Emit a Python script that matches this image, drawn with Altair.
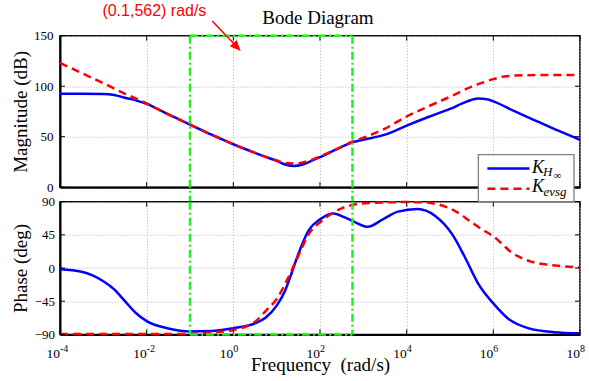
import altair as alt
import pandas as pd

# ---------------- data ----------------
freq_mag_h = [1e-4, 3.16e-4, 1e-3, 1.78e-3, 3.16e-3, 5.62e-3, 1e-2, 3.16e-2, 0.1, 0.316,
              1.0, 3.16, 5.62, 10.0, 15.8, 25.1, 39.8, 63.1, 100.0, 316.0, 562.0, 1000.0,
              3160.0, 1e4, 3.16e4, 1e5, 2.51e5, 4.47e5, 7.08e5, 1e6, 3.16e6, 1e7, 3.16e7, 1e8]
mag_h = [92.5, 92.5, 92.3, 91.3, 88.5, 86, 82.5, 72, 62, 52,
         42.5, 34, 30, 26, 22.5, 21, 22.5, 26, 29.7, 40, 44.5, 47,
         52, 61, 69.5, 77.5, 85, 87.8, 87, 85, 75, 65.5, 56, 47]

freq_mag_e = [1e-4, 3.16e-4, 1e-3, 3.16e-3, 1e-2, 3.16e-2, 0.1, 0.316, 1.0, 3.16, 5.62,
              10.0, 15.8, 25.1, 39.8, 63.1, 100.0, 316.0, 562.0, 1000.0, 3160.0, 1e4,
              3.16e4, 1e5, 3.16e5, 5.62e5, 1e6, 1.78e6, 3.16e6, 1e7, 1e8]
mag_e = [123, 113, 103, 92.5, 83, 72, 62, 52, 42.5, 34, 30,
         26.5, 24, 23.5, 24.5, 27, 30.5, 40, 45, 49, 58, 70,
         80, 89.5, 99.5, 103.5, 107, 109.5, 110.5, 111, 111]

freq_ph_h = [1e-4, 3.16e-4, 5.62e-4, 1e-3, 1.78e-3, 3.16e-3, 5.62e-3, 1e-2, 3.16e-2, 0.1,
             0.316, 1.0, 3.16, 5.62, 10.0, 15.8, 22.4, 31.6, 56.2, 100.0, 200.0, 398.0,
             708.0, 1259.0, 2818.0, 6310.0, 1.78e4, 4.47e4, 1.12e5, 2.24e5, 4.47e5, 1e6,
             2.24e6, 6.31e6, 2.51e7, 1e8]
ph_h = [-1.5, -5, -10, -18, -29, -45, -61, -72, -82, -86,
        -85.5, -81.5, -75, -67, -51, -30, -6, 19, 52, 66, 74, 68,
        61, 56, 66, 76.5, 80, 71, 46, 14, -21, -48,
        -69, -81.5, -87, -88.5]

freq_ph_e = [1e-4, 1e-3, 1e-2, 0.1, 0.316, 1.0, 3.16, 5.62, 10.0, 17.8, 31.6, 56.2,
             100.0, 178.0, 316.0, 661.0, 1585.0, 3162.0, 1e4, 2.51e4, 5.62e4, 1.26e5,
             3.16e5, 5.62e5, 1e6, 1.58e6, 2.51e6, 3.98e6, 7.08e6, 1.58e7, 3.16e7, 1e8]
ph_e = [-89.5, -89.5, -89.5, -89.5, -87.5, -84, -73, -58, -42, -15, 16.6, 47,
        62, 73, 81, 86.4, 88.5, 89, 89.5, 89, 86, 78,
        62, 52, 43, 33, 22, 15, 9, 5, 3, 1]

band_freqs = [0.1, 562.0]          # highlighted band (rad/s)
tick_values = [1e-4, 1e-2, 1e0, 1e2, 1e4, 1e6, 1e8]
tick_exponents = ["-4", "-2", "0", "2", "4", "6", "8"]
mag_ticks = [0, 50, 100, 150]
phase_ticks = [-90, -45, 0, 45, 90]
arrow_x = [0.326, 1.185]
arrow_y = [164.6, 139.2]

title_text = "Bode Diagram"
note_text = "(0.1,562) rad/s"
legend_sub = ["H", "evsg"]

# ---------------- layout ----------------
W = 520
H1 = 151.5
H2 = 132.7
GAP = 14
SERIF = "Liberation Serif"
BLUE = "#0000ff"
RED = "#ff0000"
GREEN = "#22ee22"
GRIDC = "#b4b4b4"

xscale = alt.Scale(type="log", domain=[1e-4, 1e8], nice=False)
one = pd.DataFrame({"k": [0]})


def x_enc(field="freq", title=None):
    if title:
        ax = alt.Axis(values=tick_values, tickCount=len(tick_values), labels=False,
                      ticks=False, grid=True, title=title, titleY=36.5,
                      titleBaseline="alphabetic")
    else:
        ax = alt.Axis(values=tick_values, tickCount=len(tick_values), labels=False,
                      ticks=False, grid=True, title=None)
    return alt.X(f"{field}:Q", scale=xscale, axis=ax)


def y_enc(domain, values, title, pad):
    return alt.Y("value:Q", scale=alt.Scale(domain=domain, nice=False, zero=False),
                 axis=alt.Axis(values=values, tickCount=len(values), ticks=False, grid=True,
                               labelPadding=pad, labelOverlap=False, labelFlush=False,
                               title=title, titleX=-34, titleBaseline="alphabetic"))


# ---------------- top panel: magnitude ----------------
ytop = y_enc([0, 150], mag_ticks, "Magnitude (dB)", 7)

mag_blue = alt.Chart(pd.DataFrame({"freq": freq_mag_h, "value": mag_h})).mark_line(
    color=BLUE, strokeWidth=2.5, interpolate="monotone").encode(x=x_enc(), y=ytop)
mag_red = alt.Chart(pd.DataFrame({"freq": freq_mag_e, "value": mag_e})).mark_line(
    color=RED, strokeWidth=2.5, strokeDash=[8, 5], interpolate="monotone").encode(
    x=x_enc(), y=ytop)

band_df = pd.DataFrame({"freq": band_freqs})
band_h = pd.DataFrame({"f1": [band_freqs[0]], "f2": [band_freqs[1]]})
green_v_top = alt.Chart(band_df).mark_rule(color=GREEN, strokeWidth=2.5,
                                           strokeDash=[8, 3, 2, 3]).encode(
    x="freq:Q", y=alt.value(0), y2=alt.value(H1 + GAP))
green_h_top = alt.Chart(band_h).mark_rule(color=GREEN, strokeWidth=2.5,
                                          strokeDash=[8, 3, 2, 3]).encode(
    x="f1:Q", x2="f2:Q", y=alt.datum(150))

ticks_df = pd.DataFrame({"freq": tick_values})
xt_bot = alt.Chart(ticks_df).mark_rule(color="black", strokeWidth=1).encode(
    x="freq:Q", y=alt.value(H1), y2=alt.value(H1 - 5))
xt_top = alt.Chart(ticks_df).mark_rule(color="black", strokeWidth=1).encode(
    x="freq:Q", y=alt.value(0), y2=alt.value(5))
ymt = pd.DataFrame({"value": mag_ticks})
yt_l = alt.Chart(ymt).mark_rule(color="black", strokeWidth=1).encode(
    y="value:Q", x=alt.value(0), x2=alt.value(5))
yt_r = alt.Chart(ymt).mark_rule(color="black", strokeWidth=1).encode(
    y="value:Q", x=alt.value(W - 5), x2=alt.value(W))

title_mark = alt.Chart(one).mark_text(font=SERIF, fontSize=19, color="black",
                                      align="center", baseline="alphabetic").encode(
    x=alt.value(258), y=alt.value(-12), text=alt.value(title_text))
note_mark = alt.Chart(one).mark_text(font="Liberation Sans", fontSize=16, color=RED,
                                     align="left", baseline="alphabetic").encode(
    x=alt.value(42.4), y=alt.value(-19.7), text=alt.value(note_text))
arrow_df = pd.DataFrame({"x1": [arrow_x[0]], "x2": [arrow_x[1]],
                         "y1": [arrow_y[0]], "y2": [arrow_y[1]]})
arrow_line = alt.Chart(arrow_df).mark_rule(color=RED, strokeWidth=1.5).encode(
    x="x1:Q", x2="x2:Q", y="y1:Q", y2="y2:Q")
arrow_head = alt.Chart(arrow_df).mark_point(
    shape="M0,-1L0.75,0.8L-0.75,0.8Z", filled=True, color=RED, opacity=1,
    size=150, angle=137).encode(x="x2:Q", y="y2:Q")

top = alt.layer(mag_blue, mag_red, xt_bot, xt_top, yt_l, yt_r, green_v_top, green_h_top,
                title_mark, note_mark, arrow_line, arrow_head).properties(width=W, height=H1)

# ---------------- bottom panel: phase ----------------
ybot = y_enc([-90, 90], phase_ticks, "Phase (deg)", 5.5)
xbot = x_enc(title="Frequency\u00a0 (rad/s)")

ph_blue = alt.Chart(pd.DataFrame({"freq": freq_ph_h, "value": ph_h})).mark_line(
    color=BLUE, strokeWidth=2.5, interpolate="monotone").encode(x=xbot, y=ybot)
ph_red = alt.Chart(pd.DataFrame({"freq": freq_ph_e, "value": ph_e})).mark_line(
    color=RED, strokeWidth=2.5, strokeDash=[8, 5], interpolate="monotone").encode(
    x=xbot, y=ybot)

green_v_bot = alt.Chart(band_df).mark_rule(color=GREEN, strokeWidth=2.5,
                                           strokeDash=[8, 3, 2, 3]).encode(
    x="freq:Q", y=alt.value(0), y2=alt.value(H2))
green_h_bot = alt.Chart(band_h).mark_rule(color=GREEN, strokeWidth=2.5,
                                          strokeDash=[8, 3, 2, 3]).encode(
    x="f1:Q", x2="f2:Q", y=alt.datum(-90))

xb_bot = alt.Chart(ticks_df).mark_rule(color="black", strokeWidth=1).encode(
    x="freq:Q", y=alt.value(H2), y2=alt.value(H2 - 5))
xb_top = alt.Chart(ticks_df).mark_rule(color="black", strokeWidth=1).encode(
    x="freq:Q", y=alt.value(0), y2=alt.value(5))
ypt = pd.DataFrame({"value": phase_ticks})
ybt_l = alt.Chart(ypt).mark_rule(color="black", strokeWidth=1).encode(
    y="value:Q", x=alt.value(0), x2=alt.value(5))
ybt_r = alt.Chart(ypt).mark_rule(color="black", strokeWidth=1).encode(
    y="value:Q", x=alt.value(W - 5), x2=alt.value(W))

lab_df = pd.DataFrame({"freq": tick_values, "exp": tick_exponents})
lab_base = alt.Chart(lab_df).mark_text(font=SERIF, fontSize=13.5, color="black",
                                       align="right", baseline="alphabetic").encode(
    x="freq:Q", y=alt.value(H2 + 24), text=alt.value("10"))
lab_exp = alt.Chart(lab_df).mark_text(font=SERIF, fontSize=10, color="black",
                                      align="left", baseline="alphabetic").encode(
    x="freq:Q", y=alt.value(H2 + 18), text="exp:N")

# legend (drawn manually for the math-style subscripts)
leg_box = alt.Chart(one).mark_rect(fill="white", stroke="#808080", strokeWidth=1.3).encode(
    x=alt.value(418.4), x2=alt.value(514), y=alt.value(-47), y2=alt.value(0))
leg_blue = alt.Chart(one).mark_rule(color=BLUE, strokeWidth=2.5).encode(
    x=alt.value(427.4), x2=alt.value(469.4), y=alt.value(-33.3))
leg_red = alt.Chart(one).mark_rule(color=RED, strokeWidth=2.5, strokeDash=[8, 5]).encode(
    x=alt.value(427.4), x2=alt.value(469.4), y=alt.value(-13))
leg_k1 = alt.Chart(one).mark_text(font=SERIF, fontStyle="italic", fontSize=18,
                                  align="left", baseline="alphabetic", color="black").encode(
    x=alt.value(472), y=alt.value(-29), text=alt.value("K"))
leg_s1 = alt.Chart(one).mark_text(font=SERIF, fontStyle="italic", fontSize=13,
                                  align="left", baseline="alphabetic", color="black").encode(
    x=alt.value(483), y=alt.value(-25.5), text=alt.value(legend_sub[0]))
leg_inf = alt.Chart(one).mark_text(font=SERIF, fontSize=11, align="left",
                                   baseline="alphabetic", color="black").encode(
    x=alt.value(493.5), y=alt.value(-22.5), text=alt.value("\u221e"))
leg_k2 = alt.Chart(one).mark_text(font=SERIF, fontStyle="italic", fontSize=18,
                                  align="left", baseline="alphabetic", color="black").encode(
    x=alt.value(472), y=alt.value(-9.3), text=alt.value("K"))
leg_s2 = alt.Chart(one).mark_text(font=SERIF, fontStyle="italic", fontSize=13,
                                  align="left", baseline="alphabetic", color="black").encode(
    x=alt.value(483.5), y=alt.value(-6), text=alt.value(legend_sub[1]))

bottom = alt.layer(ph_blue, ph_red, xb_bot, xb_top, ybt_l, ybt_r, green_v_bot, green_h_bot,
                   lab_base, lab_exp, leg_box, leg_blue, leg_red, leg_k1, leg_s1, leg_inf,
                   leg_k2, leg_s2).properties(width=W, height=H2)

chart = alt.vconcat(top, bottom, spacing=GAP, bounds="flush").properties(
    padding={"left": 10, "top": 1.7, "right": 0, "bottom": 0},
    background="white",
).configure(font=SERIF).configure_view(
    stroke="black", strokeWidth=1.5
).configure_axis(
    labelFont=SERIF, labelFontSize=13, labelColor="black",
    titleFont=SERIF, titleFontSize=19, titleFontWeight="normal", titleColor="black",
    gridDash=[1, 2], gridColor=GRIDC, gridWidth=1,
    domainColor="black", domainWidth=2,
)

chart.save("out.html", embed_options={"renderer": "svg", "actions": False})
